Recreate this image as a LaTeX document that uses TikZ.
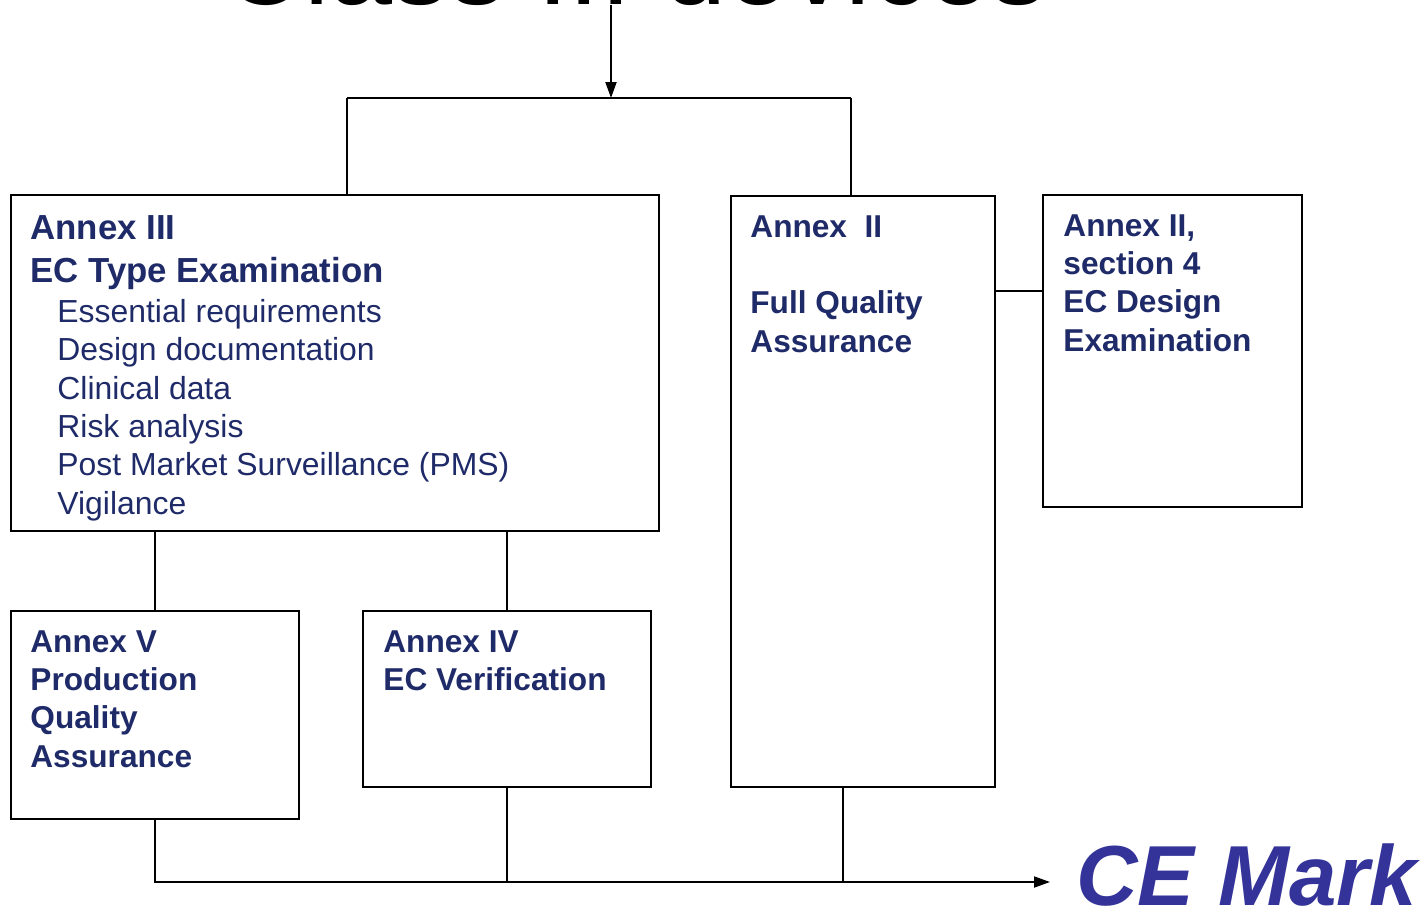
\documentclass[tikz,border=0pt]{standalone}
\usepackage{fontspec}
\setmainfont{Liberation Sans}
\usepackage{tikz}
\usetikzlibrary{arrows.meta,positioning,calc}
\definecolor{annexblue}{RGB}{31,43,104}
\definecolor{markblue}{RGB}{51,51,153}
\tikzstyle{arrow} = [line width=1.1pt,-{Triangle[length=3.2mm,width=2.2mm]}]
\tikzstyle{link} = [line width=1.1pt]
\tikzset{
  box/.style={draw, line width=1.1pt, inner sep=0pt},
  annex/.style={anchor=north west, inner sep=0pt, align=left, text=annexblue,
    font=\fontsize{18}{21.8}\selectfont\bfseries},
  bighead/.style={anchor=north west, inner sep=0pt, align=left, text=annexblue,
    font=\fontsize{19.8}{24.4}\selectfont\bfseries},
  items/.style={anchor=north west, inner sep=0pt, align=left, text=annexblue,
    font=\fontsize{18.15}{21.8}\selectfont}
}

\begin{document}
\begin{tikzpicture}[x=0.02cm,y=-0.02cm]
  \useasboundingbox (0,0) rectangle (1428,907);
  \clip (0,0) rectangle (1428,907);

  % Title (cut off at the top)
  \node[anchor=base, inner sep=0pt, font=\fontsize{64.5}{70}\selectfont] (title) at (635,4) {Class III devices};

  % Boxes
  \node[box, minimum width=12.96cm, minimum height=6.72cm] (a3) at (335,363) {};
  \node[box, minimum width=5.28cm, minimum height=11.82cm] (a2) at (863,491.5) {};
  \node[box, minimum width=5.18cm, minimum height=6.24cm] (a2s4) at (1172.5,351) {};
  \node[box, minimum width=5.76cm, minimum height=4.16cm] (a5) at (155,715) {};
  \node[box, minimum width=5.76cm, minimum height=3.52cm] (a4) at (507,699) {};

  % Box texts
  \node[bighead] (a3head) at ($(a3.north west)+(20,21)$) {Annex III\\EC Type Examination};
  \node[items] (a3list) at ($(a3.north west)+(47,105)$) {Essential requirements\\Design documentation\\Clinical data\\Risk analysis\\Post Market Surveillance (PMS)\\Vigilance};
  \node[annex] (a2text) at ($(a2.north west)+(20,20)$) {Annex\ \ II\\[21.8pt]Full Quality\\Assurance};
  \node[annex] (a2s4text) at ($(a2s4.north west)+(21,20)$) {Annex II,\\section 4\\EC Design\\Examination};
  \node[annex] (a5text) at ($(a5.north west)+(20,20)$) {Annex V\\Production\\Quality\\Assurance};
  \node[annex] (a4text) at ($(a4.north west)+(21,20)$) {Annex IV\\EC Verification};

  % CE Mark
  \node[anchor=base west, inner sep=0pt, text=markblue,
    font=\fontsize{48.5}{55}\selectfont\bfseries\itshape] (cemark) at (1076,905) {CE Mark};

  % Connectors
  \coordinate (split) at (611,98);
  \coordinate (lsplit) at (347,98);
  \coordinate (rsplit) at (851,98);
  \coordinate (side) at (1019,291);
  \coordinate (ce) at (1050,882);

  \draw[arrow] (title.south -| split) -- (split);
  \draw[link] (lsplit) -- (rsplit);
  \draw[link] (lsplit) -- (lsplit |- a3.north);
  \draw[link] (rsplit) -- (rsplit |- a2.north);
  \draw[link] (side -| a2.east) -- (side -| a2s4.west);
  \draw[link] (a3.south -| a5.north) -- (a5.north);
  \draw[link] (a3.south -| a4.north) -- (a4.north);
  \draw[link] (a4.south) -- (a4.south |- ce);
  \draw[link] ($(a2.south)+(-20,0)$) -- ($(a2.south |- ce)+(-20,0)$);
  \draw[arrow] (a5.south) -- (a5.south |- ce) -- (ce);
\end{tikzpicture}
\end{document}
